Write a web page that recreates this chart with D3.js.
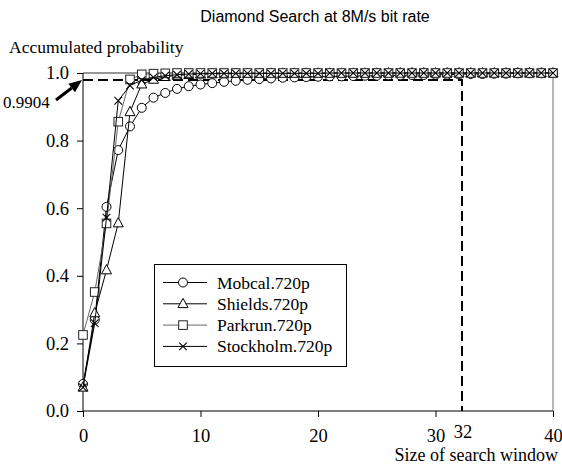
<!DOCTYPE html>
<html>
<head>
<meta charset="utf-8">
<title>Diamond Search at 8M/s bit rate</title>
<script src="https://cdn.jsdelivr.net/npm/d3@7/dist/d3.min.js"></script>
<style>
  * { margin: 0; padding: 0; }
  body { background: #fff; }
  svg text { font-family: "Liberation Serif", "Times New Roman", serif; fill: #000; }
  svg text.title { font-family: "Liberation Sans", Arial, sans-serif; }
</style>
</head>
<body>
<div id="chart"></div>
<script>
// search window sizes 0..40
var windowSize = [0,1,2,3,4,5,6,7,8,9,10,11,12,13,14,15,16,17,18,19,20,
                  21,22,23,24,25,26,27,28,29,30,31,32,33,34,35,36,37,38,39,40];

var mobcal = [0.080,0.270,0.604,0.772,0.842,0.897,0.927,0.941,0.953,0.961,0.966,
              0.970,0.974,0.977,0.980,0.982,0.984,0.986,0.987,0.988,0.989,
              0.990,0.990,0.991,0.992,0.992,0.993,0.993,0.994,0.994,0.995,
              0.995,0.996,0.997,0.997,0.998,0.998,0.999,0.999,0.999,1.000];
var shields = [0.070,0.290,0.417,0.556,0.885,0.967,0.981,0.989,0.993,0.995,0.996,
               0.997,0.997,0.998,0.998,0.998,0.999,0.999,0.999,0.999,0.999,
               0.999,0.999,0.999,0.999,0.999,1.000,1.000,1.000,1.000,1.000,
               1.000,1.000,1.000,1.000,1.000,1.000,1.000,1.000,1.000,1.000];
var parkrun = [0.225,0.352,0.555,0.856,0.981,0.996,0.998,0.999,1.000,1.000,1.000,
               1.000,1.000,1.000,1.000,1.000,1.000,1.000,1.000,1.000,1.000,
               1.000,1.000,1.000,1.000,1.000,1.000,1.000,1.000,1.000,1.000,
               1.000,1.000,1.000,1.000,1.000,1.000,1.000,1.000,1.000,1.000];
var stockholm = [0.070,0.260,0.572,0.918,0.963,0.979,0.987,0.992,0.995,0.997,0.998,
                 0.999,0.999,0.999,0.999,0.999,0.999,0.999,0.999,0.999,0.999,
                 1.000,1.000,1.000,1.000,1.000,1.000,1.000,1.000,1.000,1.000,
                 1.000,1.000,1.000,1.000,1.000,1.000,1.000,1.000,1.000,1.000];

var seriesNames = ["Mobcal.720p","Shields.720p","Parkrun.720p","Stockholm.720p"];
var seriesValues = [mobcal, shields, parkrun, stockholm];
var seriesMarkers = ["circle","triangle","square","cross"];

var xTicks = [0,10,20,30,40];
var yTicks = [0,0.2,0.4,0.6,0.8,1.0];

// reference lines (the marked window 32 and the 0.9904 level as drawn)
var refWindow = 32;
var refLevelDrawn = 0.979;
var refLabel = "0.9904";

var W = 562, H = 467;
var serif = '"Liberation Serif", "Times New Roman", serif';
var x = d3.scaleLinear().domain([0,40]).range([83,553]);
var y = d3.scaleLinear().domain([0,1]).range([411,73]);

var svg = d3.select("#chart").append("svg").attr("width",W).attr("height",H);

svg.append("text").attr("class","title")
   .attr("x",315).attr("y",22).attr("text-anchor","middle")
   .style("font-size","16px").text("Diamond Search at 8M/s bit rate");

svg.append("text").attr("x",9).attr("y",53)
   .style("font-size","17.5px").text("Accumulated probability");

// frame top + right
svg.append("line").attr("x1",x(0)).attr("x2",x(40)).attr("y1",y(1)).attr("y2",y(1))
   .attr("stroke","#333").attr("stroke-width",1);
svg.append("line").attr("x1",x(40)).attr("x2",x(40)).attr("y1",y(1)).attr("y2",y(0))
   .attr("stroke","#888").attr("stroke-width",1.2);

// axes
var yAxis = d3.axisLeft(y).tickValues(yTicks).tickSize(6).tickPadding(8)
              .tickFormat(d3.format(".1f"));
var gy = svg.append("g").attr("transform","translate("+x(0)+",0)").call(yAxis)
            .attr("font-family",null).attr("font-size",null);
gy.select(".domain").remove();
gy.append("line").attr("x1",0).attr("x2",0).attr("y1",y(1)).attr("y2",y(0)).attr("stroke","#000");
gy.selectAll(".tick text").style("font-size","18.5px").style("font-family",serif);

var xAxis = d3.axisBottom(x).tickValues(xTicks).tickSize(6).tickPadding(12)
              .tickFormat(d3.format("d"));
var gx = svg.append("g").attr("transform","translate(0,"+y(0)+")").call(xAxis)
            .attr("font-family",null).attr("font-size",null);
gx.select(".domain").remove();
gx.append("line").attr("x1",x(0)).attr("x2",x(40)).attr("y1",0).attr("y2",0).attr("stroke","#000");
gx.selectAll(".tick text").style("font-size","18.5px").style("font-family",serif);

svg.append("text").attr("x",x(refWindow)+4).attr("y",y(0)+27).attr("text-anchor","middle")
   .style("font-size","18.5px").text(String(refWindow));

svg.append("text").attr("x",558).attr("y",461).attr("text-anchor","end")
   .style("font-size","18px").text("Size of search window");

// dashed reference lines
svg.append("path")
   .attr("d","M"+x(0)+","+y(refLevelDrawn)+"H"+(x(refWindow)+3)+"V"+y(0))
   .attr("fill","none").attr("stroke","#000").attr("stroke-width",2)
   .attr("stroke-dasharray","10,5");

// arrow and label
svg.append("text").attr("x",3).attr("y",108).style("font-size","17px").text(refLabel);
var tipX = x(0)-1, tipY = y(refLevelDrawn);
var tailX = 56, tailY = 100;
var ang = Math.atan2(tipY-tailY, tipX-tailX);
var hl = 13, hw = 5.5;
var bx = tipX - hl*Math.cos(ang), by = tipY - hl*Math.sin(ang);
svg.append("line").attr("x1",tailX).attr("y1",tailY).attr("x2",bx).attr("y2",by)
   .attr("stroke","#000").attr("stroke-width",3);
svg.append("path")
   .attr("d","M"+tipX+","+tipY+
             "L"+(bx+hw*Math.sin(ang))+","+(by-hw*Math.cos(ang))+
             "L"+(bx-hw*Math.sin(ang))+","+(by+hw*Math.cos(ang))+"Z")
   .attr("fill","#000");

// marker drawing
function drawMarker(g, type, cx, cy) {
  if (type === "circle") {
    g.append("circle").attr("cx",cx).attr("cy",cy).attr("r",4.5)
     .attr("fill","#fff").attr("stroke","#000").attr("stroke-width",1);
  } else if (type === "triangle") {
    g.append("path").attr("d","M"+cx+","+(cy-5.5)+"L"+(cx+5)+","+(cy+3.8)+"L"+(cx-5)+","+(cy+3.8)+"Z")
     .attr("fill","#fff").attr("stroke","#000").attr("stroke-width",1);
  } else if (type === "square") {
    g.append("rect").attr("x",cx-4.3).attr("y",cy-4.3).attr("width",8.6).attr("height",8.6)
     .attr("fill","#fff").attr("stroke","#222").attr("stroke-width",1);
  } else {
    g.append("path").attr("d","M"+(cx-3.8)+","+(cy-3.8)+"L"+(cx+3.8)+","+(cy+3.8)+
                              "M"+(cx+3.8)+","+(cy-3.8)+"L"+(cx-3.8)+","+(cy+3.8))
     .attr("stroke","#000").attr("stroke-width",1.1).attr("fill","none");
  }
}

var lineColors = ["#000","#000","#666","#000"];
var line = d3.line().x(function(d){return x(d[0]);}).y(function(d){return y(d[1]);});

seriesValues.forEach(function(vals, i) {
  var pts = windowSize.map(function(w, j){ return [w, vals[j]]; });
  var g = svg.append("g");
  g.append("path").datum(pts).attr("d",line).attr("fill","none")
   .attr("stroke",lineColors[i]).attr("stroke-width",1);
  pts.forEach(function(p){ drawMarker(g, seriesMarkers[i], x(p[0]), y(p[1])); });
});

// legend
var lg = svg.append("g");
lg.append("rect").attr("x",154.5).attr("y",264.5).attr("width",192).attr("height",102)
  .attr("fill","#fff").attr("stroke","#000").attr("stroke-width",1);
seriesNames.forEach(function(name, i) {
  var ly = 282.5 + i*21.3;
  lg.append("line").attr("x1",163).attr("x2",207).attr("y1",ly).attr("y2",ly)
    .attr("stroke",lineColors[i]).attr("stroke-width",1);
  drawMarker(lg, seriesMarkers[i], 183, ly);
  lg.append("text").attr("x",217).attr("y",ly+6).style("font-size","17.5px").text(name);
});
</script>
</body>
</html>
